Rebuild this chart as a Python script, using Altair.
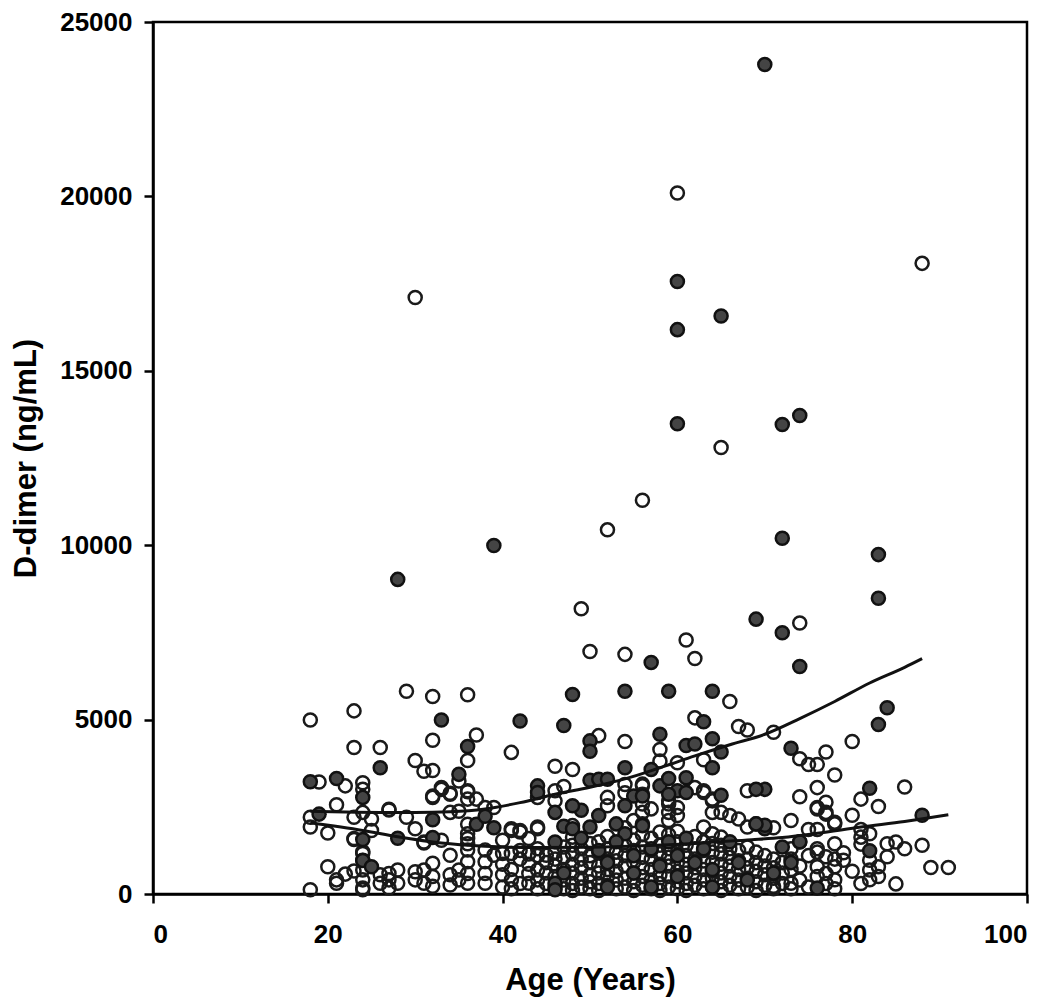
import altair as alt
import pandas as pd

# ---------------- data ----------------
# open circles (age in years, D-dimer in ng/mL)
open_age = [
    30, 52, 49, 50, 54, 60, 88, 65, 56, 74, 61, 62,
    29, 32, 36, 18, 23, 23, 32, 37, 26, 41, 36, 30, 31, 32, 35, 46, 48, 33, 34, 36, 37, 32, 44, 47, 46, 39,
    27, 29, 30, 34, 35, 36, 41, 42, 44, 31, 33, 36, 36,
    62, 66, 67, 68, 51, 54, 58, 58, 60, 63, 56, 62, 63, 68, 52, 56, 57, 52, 59, 60, 60, 64, 65, 66, 67,
    56, 55, 59, 58, 63, 64, 65, 68, 69, 70,
    71, 80, 74, 75, 76, 77, 78, 86, 76, 74, 81, 83, 76, 77, 77, 80, 73, 78, 75, 76, 81, 81, 81, 82, 71,
    84, 85, 86, 88, 89, 91, 85, 78, 79, 79, 74, 76, 77, 82, 82, 83, 84, 82, 83, 76, 77, 78, 78, 73, 71,
    19, 22, 24, 24, 21, 18, 23, 24, 18, 20, 23, 24, 20, 22, 23, 21, 24, 18, 21,
    25, 25, 23, 24, 24, 24, 24, 24, 26, 26, 27, 27, 27, 27, 28, 28, 30, 30, 31, 31, 31, 32, 32, 32, 32,
    33, 34, 34, 34, 34, 35, 35, 36, 36, 36, 36, 36, 36, 36, 38, 38, 38, 38, 38, 39, 40, 40, 41, 41,
    40, 41, 42, 43, 44, 43, 43, 44, 44, 45, 46, 48, 48, 54, 54,
    56, 56, 56, 59, 59, 63, 64, 64, 76, 77, 78,
    40, 40, 41, 41, 42, 42, 42, 43, 43, 44, 44, 44, 45, 45, 45,
    46, 46, 46, 46, 46, 47, 47, 47, 47, 47, 48, 48, 48, 48, 48, 48,
    49, 49, 49, 49, 49, 50, 50, 50, 50, 50, 50, 51, 51, 51, 51, 51, 51,
    52, 52, 52, 52, 52, 52, 53, 53, 53, 53, 53, 54, 54, 54, 54, 54, 54,
    55, 55, 55, 55, 55, 55, 56, 56, 56, 56, 56, 56, 57, 57, 57, 57, 57, 57,
    58, 58, 58, 58, 58, 58, 59, 59, 59, 59, 59, 59, 60, 60, 60, 60, 60, 60, 60,
    61, 61, 61, 61, 61, 61, 62, 62, 62, 62, 62, 62, 63, 63, 63, 63, 63, 63,
    64, 64, 64, 64, 64, 64, 65, 65, 65, 65, 65, 65, 66, 66, 66, 66, 66,
    67, 67, 67, 67, 67, 68, 68, 68, 68, 68, 69, 69, 69, 69, 69,
    70, 70, 70, 70, 71, 71, 71, 71, 72, 72, 72, 73, 73, 73, 73, 74, 74, 75, 75, 76, 76, 77, 78, 78, 80, 81,
]
open_ddimer = [
    17100, 10440, 8180, 6950, 6870, 20100, 18080, 12800, 11290, 7770, 7280, 6750,
    5810, 5660, 5710, 4990, 5250, 4200, 4410, 4560, 4200, 4060, 3830, 3830, 3520, 3540, 3240, 3660, 3570, 3050, 2890, 2930, 2720, 2770, 2770, 3080, 2670, 2480,
    2410, 2200, 1870, 2340, 2370, 2000, 1870, 1780, 1870, 1460, 1540, 1730, 1440,
    5050, 5520, 4800, 4700, 4540, 4370, 4140, 3810, 3760, 3850, 3150, 3050, 2960, 2960, 2770, 2580, 2440, 2530, 2670, 2480, 2250, 2670, 2340, 2250, 2150,
    2340, 2110, 2110, 1780, 1920, 1730, 1630, 1920, 2010, 1920,
    4640, 4370, 3880, 3710, 3710, 4070, 3410, 3070, 3050, 2790, 2720, 2510, 2480, 2630, 2340, 2260, 2110, 2010, 1850, 1850, 1850, 1630, 1430, 1730, 1900,
    1440, 1490, 1300, 1400, 760, 760, 290, 1440, 1180, 970, 1490, 1300, 1070, 970, 690, 780, 1070, 410, 500, 780, 590, 780, 410, 310, 220,
    3210, 3100, 3190, 3000, 2560, 2200, 2200, 2340, 1920, 1750, 1560, 1160, 780, 570, 660, 310, 120, 120, 405,
    2150, 1820, 1590, 1210, 970, 690, 405, 170, 550, 310, 2430, 590, 405, 170, 690, 310, 640, 405, 1490, 690, 310, 880, 500, 220, 2810,
    3000, 2860, 1110, 550, 260, 690, 405, 2960, 2720, 1590, 1260, 925, 590, 310, 2480, 1260, 925, 590, 310, 1110, 1160, 1540, 1820, 1160,
    550, 405, 1820, 1590, 1920, 590, 310, 690, 405, 1110, 2960, 1960, 1630, 2900, 3140,
    3100, 2860, 2010, 2580, 2340, 2910, 2720, 2340, 2440, 2290, 2060,
    200, 850, 150, 700, 300, 1000, 1250, 850, 1150, 150, 1100, 1300, 300, 600, 900,
    200, 500, 800, 1000, 1200, 150, 400, 700, 1050, 1350, 100, 300, 600, 850, 1150, 1400,
    200, 450, 750, 1000, 1300, 150, 350, 550, 900, 1100, 1450, 100, 300, 600, 800, 1200, 1500,
    250, 500, 700, 1000, 1300, 1650, 150, 400, 650, 950, 1200, 200, 450, 800, 1100, 1400, 1900,
    100, 350, 600, 900, 1250, 1550, 250, 500, 750, 1050, 1350, 1700, 150, 400, 700, 1000, 1250, 1600,
    100, 300, 550, 850, 1150, 1400, 200, 500, 800, 1050, 1300, 1700, 150, 350, 650, 900, 1200, 1500, 1800,
    100, 300, 600, 850, 1100, 1400, 250, 500, 750, 1000, 1300, 1650, 150, 400, 700, 950, 1250, 1500,
    200, 450, 650, 900, 1200, 1450, 100, 350, 600, 850, 1150, 1400, 250, 500, 800, 1050, 1300,
    150, 400, 700, 950, 1250, 200, 450, 750, 1000, 1350, 100, 350, 650, 900, 1200,
    250, 550, 800, 1100, 150, 450, 750, 1000, 300, 600, 900, 150, 700, 1000, 1300, 400, 800, 200, 1100, 500, 1200, 300, 150, 1000, 650, 300,
]

# filled circles
filled_age = [
    70, 60, 60, 65, 60, 72, 74, 72, 83, 83, 69, 72, 57, 74, 39, 28,
    84, 83, 73, 82, 88, 70, 69,
    48, 54, 59, 64, 33, 42, 47, 63, 50, 50, 58, 61, 62, 64, 65, 36, 26, 35, 44, 44, 54, 57, 64, 50, 51, 52,
    58, 59, 61, 60, 61, 65, 55, 56, 54, 49, 48, 51, 53, 50, 54, 56, 70, 70, 72, 82, 76,
    18, 21, 24, 19, 24, 24, 25, 28, 32, 32, 37, 38, 39, 46, 47, 46, 46, 46, 48, 59, 69,
    49, 51, 52, 53, 55, 55, 57, 58, 59, 60, 61, 62, 63, 64, 66, 67, 68, 71, 73, 74, 47, 52, 57, 60, 64,
]
filled_ddimer = [
    23780, 17560, 16180, 16570, 13480, 13460, 13720, 10200, 9730, 8480, 7880, 7490, 6640, 6520, 9990, 9020,
    5340, 4860, 4180, 3030, 2260, 3000, 3000,
    5720, 5810, 5810, 5810, 4990, 4960, 4830, 4940, 4390, 4090, 4580, 4260, 4300, 4450, 4070, 4230, 3620, 3430, 3100, 2910, 3620, 3570, 3620, 3260, 3290, 3290,
    3100, 3310, 3330, 2960, 2910, 2830, 2810, 2810, 2530, 2400, 2530, 2250, 2010, 1920, 1730, 1960, 1870, 1970, 1350, 1240, 170,
    3220, 3310, 2770, 2290, 1560, 960, 780, 1600, 2130, 1620, 2000, 2230, 1900, 2340, 1940, 1490, 310, 120, 1870, 2860, 2010,
    1600, 1250, 900, 1500, 1100, 600, 1300, 800, 1500, 1100, 1600, 900, 1300, 700, 1500, 900, 400, 600, 900, 1500, 600, 200, 200, 500, 200,
]

# fitted curves, values read at several ages
fit_filled_age = [18, 22, 26, 30, 34, 38, 42, 46, 50, 54, 58, 62, 66, 70, 74, 78, 82, 86, 88]
fit_filled_val = [2370, 2350, 2340, 2340, 2360, 2440, 2620, 2860, 3060, 3300, 3620, 3960, 4280, 4580, 5030, 5520, 6050, 6500, 6750]
fit_open_age = [18, 24, 28, 33, 38, 44, 50, 56, 62, 68, 72, 76, 81, 86, 91]
fit_open_val = [2040, 1820, 1640, 1460, 1370, 1330, 1340, 1380, 1450, 1550, 1620, 1740, 1920, 2080, 2270]

df_open = pd.DataFrame({"age": open_age, "ddimer": open_ddimer})
df_filled = pd.DataFrame({"age": filled_age, "ddimer": filled_ddimer})
df_fit1 = pd.DataFrame({"age": fit_filled_age, "ddimer": fit_filled_val})
df_fit2 = pd.DataFrame({"age": fit_open_age, "ddimer": fit_open_val})

FONT = "Liberation Sans"

x_enc = alt.X(
    "age:Q",
    scale=alt.Scale(domain=[0, 100], nice=False, zero=False),
    axis=alt.Axis(values=[0, 20, 40, 60, 80, 100], title="Age (Years)", format="d",
                  labelPadding=18, titlePadding=18),
)
y_enc = alt.Y(
    "ddimer:Q",
    scale=alt.Scale(domain=[0, 25000], nice=False, zero=False),
    axis=alt.Axis(values=[0, 5000, 10000, 15000, 20000, 25000], title="D-dimer (ng/mL)", format="d",
                  labelPadding=12, titlePadding=17),
)

open_pts = alt.Chart(df_open).mark_point(
    shape="circle", filled=False, size=170, strokeWidth=2.5, color="#1a1a1a", opacity=1
).encode(x=x_enc, y=y_enc)

filled_pts = alt.Chart(df_filled).mark_point(
    shape="circle", filled=True, size=170, fill="#444444", stroke="#111111", strokeWidth=2.5,
    fillOpacity=1, strokeOpacity=1
).encode(x=x_enc, y=y_enc)

fit1 = alt.Chart(df_fit1).mark_line(color="#111111", strokeWidth=3, interpolate="monotone").encode(x=x_enc, y=y_enc)
fit2 = alt.Chart(df_fit2).mark_line(color="#111111", strokeWidth=3, interpolate="monotone").encode(x=x_enc, y=y_enc)

chart = alt.layer(open_pts, filled_pts, fit1, fit2).properties(
    width=874, height=872,
    autosize=alt.AutoSizeParams(type="none"),
    padding={"left": 145, "top": 14, "right": 15, "bottom": 110},
).configure_view(
    stroke="black", strokeWidth=2.5
).configure_axis(
    grid=False,
    domainColor="black", domainWidth=2.5,
    tickColor="black", tickWidth=2.5, tickSize=9,
    labelFont=FONT, labelFontSize=26, labelFontWeight="bold", labelColor="black",
    titleFont=FONT, titleFontSize=31, titleFontWeight="bold", titleColor="black",
)

chart.save("out.html", embed_options={"renderer": "svg", "actions": False})
